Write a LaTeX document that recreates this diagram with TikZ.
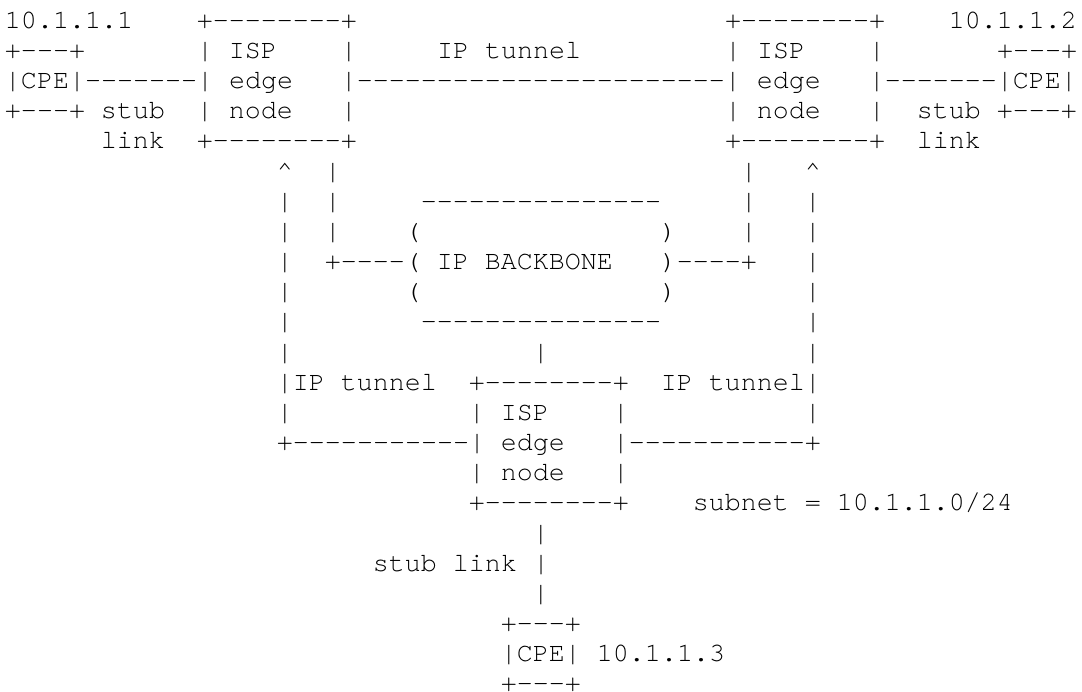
\documentclass[tikz,border=0pt]{standalone}
\usepackage{fontspec}
\newfontfamily\asciifont{texgyrecursor-regular.otf}
\newlength\colw
\setlength\colw{16pt}
% n empty character cells
\newcommand\colgap[1]{\hspace*{#1\colw}}
% n hyphens, each boxed so no dash ligature can form
\newcommand\dashrun[1]{\foreach\dd in {1,...,#1}{\mbox{-}}}
\tikzset{
  asciirow/.style={anchor=base west, inner sep=0pt, outer sep=0pt,
    text depth=0pt, font=\asciifont\fontsize{26.667}{30}\selectfont, text=black},
}
\begin{document}
\begin{tikzpicture}[x=1pt,y=1pt]
\fill[white] (0,0) rectangle (1082,-692);
\useasboundingbox (0,0) rectangle (1082,-692);
\def\xo{5}
\node[asciirow] (r1)  at (\xo,-28.30)  {10.1.1.1\colgap{4}+\dashrun{8}+\colgap{23}+\dashrun{8}+\colgap{4}10.1.1.2};
\node[asciirow] (r2)  at (\xo,-58.46)  {+\dashrun{3}+\colgap{7}| ISP\colgap{4}|\colgap{5}IP tunnel\colgap{9}| ISP\colgap{4}|\colgap{7}+\dashrun{3}+};
\node[asciirow] (r3)  at (\xo,-88.62)  {|CPE|\dashrun{7}| edge\colgap{3}|\dashrun{23}| edge\colgap{3}|\dashrun{7}|CPE|};
\node[asciirow] (r4)  at (\xo,-118.78) {+\dashrun{3}+ stub\colgap{2}| node\colgap{3}|\colgap{23}| node\colgap{3}|\colgap{2}stub +\dashrun{3}+};
\node[asciirow] (r5)  at (\xo,-148.94) {\colgap{6}link\colgap{2}+\dashrun{8}+\colgap{23}+\dashrun{8}+\colgap{2}link};
\node[asciirow] (r6)  at (\xo,-179.10) {\colgap{17}\textasciicircum\colgap{2}|\colgap{25}|\colgap{3}\textasciicircum};
\node[asciirow] (r7)  at (\xo,-209.26) {\colgap{17}|\colgap{2}|\colgap{5}\dashrun{15}\colgap{5}|\colgap{3}|};
\node[asciirow] (r8)  at (\xo,-239.42) {\colgap{17}|\colgap{2}|\colgap{4}(\colgap{15})\colgap{4}|\colgap{3}|};
\node[asciirow] (r9)  at (\xo,-269.58) {\colgap{17}|\colgap{2}+\dashrun{4}( IP BACKBONE\colgap{3})\dashrun{4}+\colgap{3}|};
\node[asciirow] (r10) at (\xo,-299.74) {\colgap{17}|\colgap{7}(\colgap{15})\colgap{8}|};
\node[asciirow] (r11) at (\xo,-329.90) {\colgap{17}|\colgap{8}\dashrun{15}\colgap{9}|};
\node[asciirow] (r12) at (\xo,-360.06) {\colgap{17}|\colgap{15}|\colgap{16}|};
\node[asciirow] (r13) at (\xo,-390.22) {\colgap{17}|IP tunnel\colgap{2}+\dashrun{8}+\colgap{2}IP tunnel|};
\node[asciirow] (r14) at (\xo,-420.38) {\colgap{17}|\colgap{11}| ISP\colgap{4}|\colgap{11}|};
\node[asciirow] (r15) at (\xo,-450.54) {\colgap{17}+\dashrun{11}| edge\colgap{3}|\dashrun{11}+};
\node[asciirow] (r16) at (\xo,-480.70) {\colgap{29}| node\colgap{3}|};
\node[asciirow] (r17) at (\xo,-510.86) {\colgap{29}+\dashrun{8}+\colgap{4}subnet = 10.1.1.0/24};
\node[asciirow] (r18) at (\xo,-541.02) {\colgap{33}|};
\node[asciirow] (r19) at (\xo,-571.18) {\colgap{23}stub link |};
\node[asciirow] (r20) at (\xo,-601.34) {\colgap{33}|};
\node[asciirow] (r21) at (\xo,-631.50) {\colgap{31}+\dashrun{3}+};
\node[asciirow] (r22) at (\xo,-661.66) {\colgap{31}|CPE| 10.1.1.3};
\node[asciirow] (r23) at (\xo,-691.82) {\colgap{31}+\dashrun{3}+};
\end{tikzpicture}
\end{document}
